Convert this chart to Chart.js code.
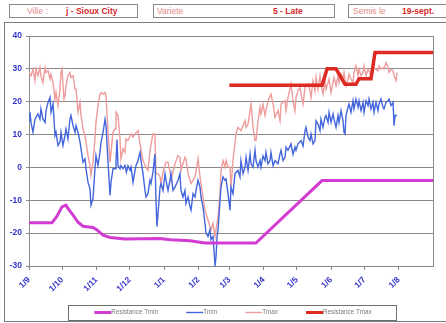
<!DOCTYPE html>
<html><head><meta charset="utf-8">
<script src="https://cdn.jsdelivr.net/npm/chart.js@4"></script>
<style>
html,body{margin:0;padding:0;background:#fff;}
body{width:446px;height:323px;position:relative;overflow:hidden;font-family:"Liberation Sans",Arial,sans-serif;}
.box{position:absolute;top:4px;height:12px;border:1px solid #8a8a8a;font-size:8.5px;line-height:12px;white-space:nowrap;}
.lbl{position:absolute;top:0;color:#e58a8a;}
.val{position:absolute;top:0;color:#d42a2a;font-weight:bold;}
#frame{position:absolute;left:4px;top:22px;width:446px;height:298px;border:1px solid #7a7a7a;}
#c{position:absolute;left:0;top:0;}
</style></head>
<body>
<div class="box" style="left:9px;width:127px"><span class="lbl" style="left:17px">Ville :</span><span class="val" style="left:56px">j - Sioux City</span></div>
<div class="box" style="left:153px;width:180px"><span class="lbl" style="left:3px">Variete</span><span class="val" style="left:119px">5 - Late</span></div>
<div class="box" style="left:348px;width:110px"><span class="lbl" style="left:4px">Semis le</span><span class="val" style="left:53px">19-sept.</span></div>
<div id="frame"></div>
<canvas id="c" width="446" height="323"></canvas>
<script>
// ---- data ----
const monthLabels = ['1/9','1/10','1/11','1/12','1/1','1/2','1/3','1/4','1/5','1/6','1/7','1/8'];
const monthStartDays = [0,30,61,91,122,153,181,212,242,273,303,334];
const yearDays = 365;
const seriesNames = ['Resistance Tmin','Tmin','Tmax','Resistance Tmax'];

// [day since 1/9, °C]
const resistanceTmin = [[0,-16.8],[20.8,-16.8],[25,-15],[29.8,-12],[33.4,-11.5],[35.2,-12.5],[39.8,-14.5],[44.3,-16.7],[48.8,-17.9],[57.8,-18.3],[61.4,-19],[66.9,-20.6],[73.2,-21.3],[86.7,-21.8],[118,-21.6],[128,-22],[145.5,-22.3],[159,-23],[205,-23],[264.7,-4],[365,-4]];

const tmin = [[0,14.2],[0.9,16.8],[1.8,13.7],[3.6,10.7],[5.4,14.7],[6.3,15.2],[8.1,16.3],[9.9,14.7],[10.8,17.8],[12.6,14.7],[14.5,13.7],[15.4,17.3],[17.2,19.8],[19,21.3],[19.9,16.8],[21.7,19.3],[23.5,9.7],[24.4,10.7],[26.2,6.7],[28,7.7],[28.9,10.7],[30.7,6.7],[32.5,9.7],[33.4,11.7],[35.2,8.7],[37,14.7],[37.9,15.8],[39.8,12.7],[41.6,10.7],[42.5,12.7],[44.3,10.7],[46.1,7.7],[47,5.7],[48.8,1.6],[50.6,2.6],[51.5,-0.4],[53.3,-4.5],[55.1,-6.5],[56,-11.5],[57.8,-9.5],[59.6,-0.4],[60.5,3.6],[62.3,0.6],[64.1,4.6],[65.1,7.7],[66.9,10.7],[68.7,14.7],[69.6,12.7],[71.4,1.6],[73.2,-8.5],[74.1,-4.5],[75.9,-0.4],[77.7,-0.4],[78.6,1.6],[79.5,8.5],[80.4,0.6],[82.2,-0.4],[83.1,0.6],[84.9,-0.4],[86.7,0.6],[88,-1.5],
[89.4,0.5],[91.3,-0.9],[92.2,0.1],[94,-4.5],[95.8,-0.9],[96.7,0.6],[98.5,2.1],[100.3,4.6],[101.2,2.1],[103,-1.9],[104.8,-7],[105.7,-9],[107.5,-8],[109.3,-3.9],[110.2,-4.9],[112,-1.4],[113.8,4.1],[114.7,-10],[115.6,-18],[117.5,-10],[118.4,-6],[119.3,-4.9],[121.1,-7],[122.9,-1.9],[123.8,-3.9],[125.6,-7],[127.4,-3.9],[128.3,-1.9],[130.1,-7],[131.9,-6],[134.6,-3.9],[136.4,-1.9],[137.3,-7],[139.1,-9],[140.9,-7],[141.8,-11],[143.7,-9],[145.5,-12],[146.4,-13],[148.2,-8],[150,-9],[150.9,-7],[152.7,-3.9],[154.5,-6],[155.4,-9],[157.2,-12],[159,-17],[159.9,-20],[161.7,-21],[163.5,-19],[164.4,-22],[166.2,-21],[167.1,-25],[168.1,-30],[169,-27],[169.9,-21],[170.8,-19],[172.6,-10],[173.5,-6],[175.3,-2.9],[177.1,-3.9],[178,-3.5],[179.8,-8],[181.6,-13],[182.5,-6],[184.3,-8],[186.1,-1.9],[188.8,-0.9],[190.6,-2.9],[191.5,2.1],[193.4,-1.9],[195.2,0.1],[196.1,3.1],[197.9,-0.9],[199.7,4.1],[200.6,1.1],[202.4,0.1],[204.2,5.2],[205.1,2.1],[206.9,0.1],[208.7,2.1],[209.6,0.1],[211.4,3.5],[213.2,2.1],[214.1,4.6],[215.9,1.1],[217.7,2.1],[218.6,4.6],[220.5,0.5],[222.3,2.1],[225,1.1],[226.8,4.1],[227.7,5.2],[229.5,2.1],[231.3,3.1],[232.2,6.2],[234,5.2],[236.7,7.2],[238.5,4],[240.3,6.2],[241.2,5.2],[243,7.2],[245.8,8.2],[247.6,6.5],[249.4,11.2],[250.3,12.2],[252.1,9.2],[253.9,8.2],[254.8,10.2],[256.6,7.2],[258.4,8.2],[259.3,14.2],[261.1,13.2],[262.9,11.2],[263.8,14.7],[265.6,12.2],[267.4,15.2],
[268.3,15.8],[270.2,13.7],[271.1,16.8],[272.9,13.7],[274.7,16.3],[275.6,14.7],[277.4,12.2],[279.2,15.8],[280.1,13.7],[281.9,17.3],[283.7,14.2],[284.6,10.7],[285.5,10.2],[286.4,15.8],[288.2,18.3],[289.1,19.3],[290.9,16.8],[292.7,20.3],[293.6,17.8],[295.4,20.8],[297.3,18.3],[298.2,20.3],[300,17.3],[301.8,19.8],[302.7,16.8],[304.5,20.3],[306.3,18.8],[307.2,20.8],[309,17.8],[310.8,19.8],[311.7,16.8],[313.5,19.8],[315.3,17.3],[316.2,19.3],[318,20.8],[319.8,18.3],[320.7,17.8],[322.6,19.8],[324.4,20.3],[325.3,20.8],[327.1,18.8],[328.9,19.8],[329.8,12.7],[330.7,15.8],[332.5,15.8]];

const tmax = [[0,28.9],[1.8,27.9],[3.6,29.9],[5.4,26.4],[6.3,29.9],[8.1,27.9],[9.9,30.4],[10.8,27.9],[12.6,25.8],[14.5,30.4],[15.4,28.9],[17.2,29.4],[19,26.9],[19.9,28.4],[21.7,25.8],[23.5,20.8],[24.4,22.8],[26.2,18.8],[28,23.8],[28.9,28.9],[29.8,29.9],[31.6,20.8],[32.5,21.8],[33.4,24.8],[35.2,27.9],[37,28.9],[37.9,27.4],[39.8,27.9],[41.6,23.8],[42.5,23.8],[44.3,16.8],[46.1,19.8],[47,15.8],[48.8,11.7],[50.6,9.7],[51.5,7.7],[53.3,3.6],[55.1,0.6],[56,-2.4],[57.8,1.6],[59.6,8.7],[60.5,13.7],[62.3,18.8],[64.1,22.3],[65.1,22.8],[66.9,22.3],[68.7,22.8],[69.6,21.8],[71.4,10.7],[73.2,1.6],[74.1,4.6],[75.9,10.7],[77.7,11.7],[78.6,16.8],[80.4,15.8],[82.2,8.7],[83.1,2.6],[84.9,5.7],[86.7,4.6],[87.6,8.7],
[89.4,8.2],[92.2,10.2],[94,9.2],[95.8,10.2],[98.5,11.2],[100.3,7.2],[103,2.1],[105.7,0.1],[107.5,-0.9],[109.3,5.2],[112,10.2],[113.8,10.2],[114.7,-1.9],[116.6,-1.9],[118.4,-2.9],[119.3,-4.9],[121.1,-1.4],[123.8,1.6],[125.6,1.6],[127.4,-1.4],[128.3,-3.9],[131.9,1.1],[134.6,3.6],[136.4,3.1],[137.3,-0.9],[140.9,3.1],[141.8,2.6],[143.7,-1.9],[146.4,-4.9],[150,-2.9],[152.7,2.6],[154.5,-2.9],[156.3,-7],[159,-13],[161.7,-16],[163.5,-18],[164.4,-19],[166.2,-17],[168.1,-21],[169,-19],[170.8,-15],[172.6,-8],[173.5,-0.9],[175.3,2.1],[177.1,0.1],[178,2.1],[179.8,0.1],[181.6,0.1],[182.5,-6],[184.3,2.1],[187,10.2],[188.8,12.2],[191.5,11.2],[195.2,14.2],[196.1,12.2],[197.9,13.2],[200.6,19.3],[202.4,12.2],[204.2,8.2],[205.1,8.2],[206.9,14.2],[208.7,18.3],[209.6,16.3],[211.4,19.3],[213.2,15.8],[215.9,20.3],[218.6,22.3],[220.5,19.3],[222.3,15.2],[225,17.3],[226.8,14.2],[227.7,19.3],[231.3,20.3],[232.2,17.3],[234,21.3],[236.7,25.4],[238.5,20.3],[240.3,17.3],[241.2,21.3],[243,23.3],[244.9,24.3],[245.8,22.3],[247.6,19.3],[249.4,24.3],[252.1,25.4],[253.9,23.3],[254.8,21.3],[256.6,26.4],[258.4,23.3],[259.3,27.4],[261.1,23.8],[262.9,27.9],[263.8,25.4],[265.6,22.3],[267.4,26.4],[268.3,23.8],[270.2,25.8],[271.1,26.9],[272.9,22.8],[274.7,25.8],[275.6,27.4],[277.4,24.8],[279.2,27.9],[280.1,25.8],[281.9,28.4],[283.7,26.9],[284.6,28.9],[286.4,24.8],[288.2,26.9],[289.1,28.4],[290.9,26.9],[292.7,25.8],[293.6,28.9],[295.4,30.9],[297.3,27.9],[298.2,29.9],[300,27.9],[301.8,28.9],[302.7,30.9],[304.5,27.9],[306.3,29.9],[307.2,29.4],[309,27.9],[310.8,28.9],[311.7,30.4],[313.5,29.9],[315.3,29.4],[316.2,30.9],[318,29.9],[319.8,30.4],[320.7,29.9],[322.6,31.9],[324.4,30.4],[325.3,28.9],[327.1,29.9],[328.9,29.4],[329.8,27.9],[331.6,26.4],[332.5,28.9]];

const resistanceTmax = [[181,25],[264.8,25],[269.3,30],[277.4,30],[285.5,25.3],[295.4,25.3],[298.2,27],[309,27],[312.6,35],[365,35]];

const yMin = -30, yMax = 40, yStep = 10;

// ---- chart ----
const toXY = arr => arr.map(p => ({x: p[0], y: p[1]}));
const blue = '#3535c8';
const FONT = '"Liberation Sans", Arial, sans-serif';

const plotBorder = {
  id: 'plotBorder',
  beforeDatasetsDraw(chart) {
    const {ctx, chartArea: a} = chart;
    ctx.save();
    ctx.strokeStyle = '#8a8a8a';
    ctx.lineWidth = 1;
    const x = Math.round(a.right) + 0.5;
    ctx.beginPath(); ctx.moveTo(x, a.top); ctx.lineTo(x, a.bottom); ctx.stroke();
    ctx.restore();
  }
};

// legend drawn from the datasets' own labels / colours, inside a framed box
const boxedLegend = {
  id: 'boxedLegend',
  afterDraw(chart, args, opts) {
    const ctx = chart.ctx;
    const ds = chart.data.datasets;
    ctx.save();
    ctx.font = opts.fontSize + 'px ' + FONT;
    const items = ds.map(d => ({d, tw: ctx.measureText(d.label).width}));
    const total = items.reduce((s, it) => s + opts.lineLen + it.tw, 0) + opts.gap * (items.length - 1);
    let x = opts.centerX - total / 2;
    const y = opts.centerY;
    const left = x - opts.padL, right = x + total + opts.padR;
    ctx.strokeStyle = '#6f6f6f'; ctx.lineWidth = 1;
    ctx.strokeRect(Math.round(left) + 0.5, Math.round(y - opts.boxH / 2) + 0.5, Math.round(right - left), opts.boxH);
    ctx.textBaseline = 'middle'; ctx.textAlign = 'left';
    items.forEach(it => {
      ctx.strokeStyle = it.d.borderColor;
      ctx.lineWidth = Math.min(it.d.borderWidth, 3);
      ctx.beginPath(); ctx.moveTo(x, y); ctx.lineTo(x + opts.lineLen, y); ctx.stroke();
      ctx.fillStyle = '#7a7a7a';
      ctx.fillText(it.d.label, x + opts.lineLen, y);
      x += opts.lineLen + it.tw + opts.gap;
    });
    ctx.restore();
  }
};

new Chart(document.getElementById('c'), {
  type: 'line',
  data: {
    datasets: [
      {label: seriesNames[0], data: toXY(resistanceTmin), borderColor: '#d23cd2', backgroundColor: '#d23cd2', borderWidth: 3, order: 1},
      {label: seriesNames[1], data: toXY(tmin), borderColor: '#4466dd', backgroundColor: '#4466dd', borderWidth: 1.4, order: 2},
      {label: seriesNames[2], data: toXY(tmax), borderColor: '#ee9c9c', backgroundColor: '#ee9c9c', borderWidth: 1.4, order: 3},
      {label: seriesNames[3], data: toXY(resistanceTmax), borderColor: '#dd2a22', backgroundColor: '#dd2a22', borderWidth: 3.5, order: 0}
    ]
  },
  options: {
    responsive: false,
    devicePixelRatio: 1,
    animation: false,
    layout: {padding: {left: 0, right: 13, top: 36, bottom: 22}},
    elements: {point: {radius: 0}, line: {tension: 0}},
    scales: {
      x: {
        type: 'linear', min: 0, max: yearDays,
        afterBuildTicks: s => { s.ticks = monthStartDays.map(v => ({value: v})); },
        afterFit: s => { s.height = 35; },
        grid: {drawOnChartArea: false, drawTicks: true, tickLength: 4, color: '#8a8a8a'},
        border: {color: '#8a8a8a'},
        ticks: {
          autoSkip: false, minRotation: 45, maxRotation: 45, padding: 5,
          color: blue, font: {family: FONT, size: 8.5, weight: 'bold'},
          callback: (v, i) => monthLabels[i]
        }
      },
      y: {
        min: yMin, max: yMax,
        afterFit: s => { s.width = 29; },
        grid: {color: '#8a8a8a', lineWidth: 1, tickLength: 3},
        border: {color: '#8a8a8a'},
        ticks: {stepSize: yStep, padding: 4, color: blue, font: {family: FONT, size: 8.5, weight: 'bold'}}
      }
    },
    plugins: {
      tooltip: {enabled: false},
      legend: {display: false},
      boxedLegend: {fontSize: 6.3, lineLen: 17, gap: 28, centerX: 233, centerY: 312.5, padL: 26, padR: 25, boxH: 15}
    }
  },
  plugins: [plotBorder, boxedLegend]
});
</script>
</body></html>
